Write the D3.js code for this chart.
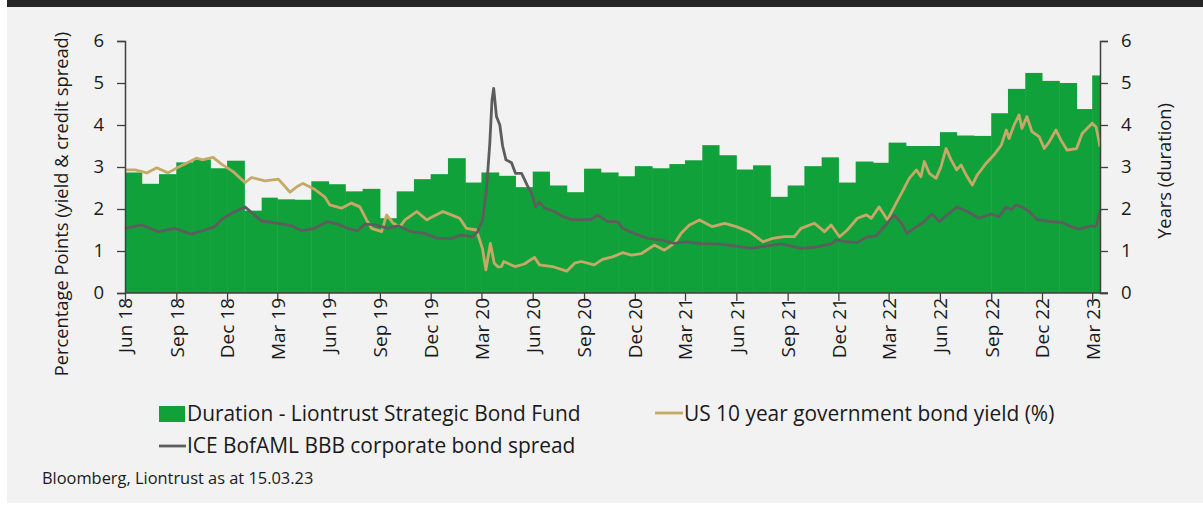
<!DOCTYPE html>
<html>
<head>
<meta charset="utf-8">
<script src="https://cdn.jsdelivr.net/npm/d3@7"></script>
<style>
  body { margin: 0; background: #ffffff; }
  svg { display: block; font-family: "Open Sans", Lato, sans-serif; }
</style>
</head>
<body>
<script>
// monthly fund duration (years), Jun 18 .. Mar 23
const durationStart = "2018-06-01";
const durationValues = [
  2.87, 2.60, 2.83, 3.11, 3.18, 2.97, 3.15,
  1.96, 2.27, 2.23, 2.22, 2.66, 2.59, 2.42, 2.48, 1.78, 2.42, 2.71, 2.83,
  3.21, 2.63, 2.87, 2.79, 2.52, 2.89, 2.56, 2.40, 2.96, 2.87, 2.78, 3.02,
  2.97, 3.07, 3.16, 3.52, 3.28, 2.94, 3.04, 2.29, 2.56, 3.02, 3.23, 2.63,
  3.13, 3.10, 3.58, 3.50, 3.50, 3.83, 3.75, 3.74, 4.28, 4.86, 5.24, 5.05,
  5.00, 4.38, 5.18
];

// US 10 year government bond yield (%)
const usYield = [
  ["2018-06-01", 2.93], ["2018-06-19", 2.93], ["2018-07-10", 2.86], ["2018-07-28", 2.98],
  ["2018-08-17", 2.86], ["2018-09-07", 3.01], ["2018-09-19", 3.09], ["2018-10-07", 3.21],
  ["2018-10-18", 3.17], ["2018-11-06", 3.23], ["2018-11-21", 3.07], ["2018-12-12", 2.89],
  ["2019-01-02", 2.63], ["2019-01-14", 2.75], ["2019-02-07", 2.67], ["2019-03-03", 2.71],
  ["2019-03-24", 2.40], ["2019-04-05", 2.53], ["2019-04-16", 2.61], ["2019-05-07", 2.47],
  ["2019-05-25", 2.29], ["2019-06-03", 2.10], ["2019-06-24", 2.02], ["2019-07-12", 2.14],
  ["2019-07-27", 2.05], ["2019-08-08", 1.74], ["2019-08-17", 1.54], ["2019-09-04", 1.46],
  ["2019-09-13", 1.86], ["2019-09-25", 1.66], ["2019-10-07", 1.58], ["2019-10-16", 1.74],
  ["2019-11-06", 1.94], ["2019-11-24", 1.74], ["2019-12-05", 1.82], ["2019-12-23", 1.94],
  ["2020-01-07", 1.86], ["2020-01-22", 1.78], ["2020-02-03", 1.54], ["2020-02-21", 1.50],
  ["2020-03-03", 1.05], ["2020-03-09", 0.55], ["2020-03-17", 1.18], ["2020-03-24", 0.71],
  ["2020-03-31", 0.62], ["2020-04-06", 0.63], ["2020-04-10", 0.75], ["2020-04-30", 0.63],
  ["2020-05-17", 0.69], ["2020-06-04", 0.85], ["2020-06-13", 0.67], ["2020-07-06", 0.63],
  ["2020-08-01", 0.52], ["2020-08-15", 0.71], ["2020-08-27", 0.75], ["2020-09-19", 0.67],
  ["2020-10-04", 0.80], ["2020-10-22", 0.86], ["2020-11-09", 0.96], ["2020-11-25", 0.90],
  ["2020-12-13", 0.94], ["2021-01-05", 1.14], ["2021-01-23", 1.02], ["2021-02-10", 1.18],
  ["2021-02-22", 1.42], ["2021-03-09", 1.62], ["2021-03-27", 1.74], ["2021-04-19", 1.58],
  ["2021-05-11", 1.66], ["2021-06-01", 1.58], ["2021-06-24", 1.46], ["2021-07-19", 1.22],
  ["2021-08-05", 1.30], ["2021-08-26", 1.34], ["2021-09-13", 1.34], ["2021-09-25", 1.54],
  ["2021-10-19", 1.66], ["2021-11-06", 1.46], ["2021-11-18", 1.62], ["2021-12-03", 1.34],
  ["2021-12-17", 1.50], ["2022-01-04", 1.78], ["2022-01-20", 1.86], ["2022-01-29", 1.78],
  ["2022-02-12", 2.05], ["2022-02-27", 1.74], ["2022-03-11", 2.05], ["2022-03-24", 2.37],
  ["2022-04-07", 2.73], ["2022-04-20", 2.93], ["2022-04-28", 2.77], ["2022-05-04", 3.13],
  ["2022-05-13", 2.85], ["2022-05-25", 2.73], ["2022-06-03", 3.01], ["2022-06-12", 3.44],
  ["2022-06-21", 3.17], ["2022-07-01", 2.93], ["2022-07-09", 3.05], ["2022-07-18", 2.81],
  ["2022-07-29", 2.57], ["2022-08-07", 2.81], ["2022-08-23", 3.09], ["2022-09-06", 3.29],
  ["2022-09-19", 3.52], ["2022-09-28", 3.88], ["2022-10-03", 3.68], ["2022-10-12", 4.00],
  ["2022-10-21", 4.24], ["2022-10-26", 3.92], ["2022-11-04", 4.20], ["2022-11-13", 3.84],
  ["2022-11-26", 3.72], ["2022-12-05", 3.44], ["2022-12-14", 3.60], ["2022-12-26", 3.88],
  ["2023-01-04", 3.64], ["2023-01-15", 3.40], ["2023-02-01", 3.44], ["2023-02-11", 3.80],
  ["2023-03-01", 4.04], ["2023-03-08", 3.95], ["2023-03-15", 3.48]
];

// ICE BofAML BBB corporate bond spread (pp)
const bbbSpread = [
  ["2018-06-01", 1.54], ["2018-07-01", 1.62], ["2018-07-31", 1.46], ["2018-08-29", 1.54],
  ["2018-09-28", 1.40], ["2018-10-22", 1.50], ["2018-11-09", 1.58], ["2018-11-21", 1.75],
  ["2018-12-09", 1.90], ["2019-01-02", 2.05], ["2019-01-31", 1.72], ["2019-03-03", 1.66],
  ["2019-03-27", 1.60], ["2019-04-13", 1.48], ["2019-05-07", 1.54], ["2019-05-30", 1.70],
  ["2019-06-17", 1.64], ["2019-07-05", 1.54], ["2019-07-23", 1.48], ["2019-08-05", 1.64],
  ["2019-08-23", 1.62], ["2019-09-15", 1.54], ["2019-10-03", 1.60], ["2019-10-28", 1.46],
  ["2019-11-20", 1.42], ["2019-12-13", 1.30], ["2020-01-08", 1.30], ["2020-01-25", 1.38],
  ["2020-02-14", 1.34], ["2020-02-23", 1.46], ["2020-03-03", 1.74], ["2020-03-10", 2.45],
  ["2020-03-16", 3.56], ["2020-03-20", 4.60], ["2020-03-23", 4.87], ["2020-03-28", 4.20],
  ["2020-04-03", 4.00], ["2020-04-08", 3.50], ["2020-04-14", 3.17], ["2020-04-24", 3.10],
  ["2020-05-01", 2.85], ["2020-05-12", 2.85], ["2020-05-22", 2.57], ["2020-05-30", 2.37],
  ["2020-06-06", 2.05], ["2020-06-13", 2.17], ["2020-06-22", 2.02], ["2020-07-10", 1.94],
  ["2020-07-23", 1.83], ["2020-08-09", 1.75], ["2020-08-29", 1.74], ["2020-09-14", 1.75],
  ["2020-09-25", 1.86], ["2020-10-13", 1.70], ["2020-10-31", 1.70], ["2020-11-09", 1.54],
  ["2020-11-30", 1.42], ["2020-12-24", 1.30], ["2021-01-18", 1.26], ["2021-02-10", 1.18],
  ["2021-03-05", 1.22], ["2021-03-30", 1.17], ["2021-04-28", 1.17], ["2021-05-28", 1.12],
  ["2021-06-28", 1.06], ["2021-07-26", 1.12], ["2021-08-21", 1.17], ["2021-09-25", 1.06],
  ["2021-10-24", 1.10], ["2021-11-18", 1.17], ["2021-11-27", 1.26], ["2021-12-17", 1.22],
  ["2022-01-04", 1.20], ["2022-01-20", 1.33], ["2022-02-07", 1.36], ["2022-02-21", 1.58],
  ["2022-03-11", 1.86], ["2022-03-24", 1.66], ["2022-04-03", 1.42], ["2022-04-20", 1.58],
  ["2022-05-04", 1.70], ["2022-05-18", 1.88], ["2022-05-31", 1.70], ["2022-06-14", 1.86],
  ["2022-07-02", 2.05], ["2022-07-20", 1.94], ["2022-08-10", 1.78], ["2022-09-01", 1.88],
  ["2022-09-15", 1.82], ["2022-09-28", 2.05], ["2022-10-07", 1.98], ["2022-10-15", 2.10],
  ["2022-10-26", 2.05], ["2022-11-08", 1.94], ["2022-11-22", 1.75], ["2022-12-17", 1.70],
  ["2023-01-06", 1.68], ["2023-01-22", 1.58], ["2023-02-06", 1.52], ["2023-02-27", 1.60],
  ["2023-03-06", 1.58], ["2023-03-09", 1.62], ["2023-03-15", 1.98]
];

const yTicks = [0, 1, 2, 3, 4, 5, 6];
const seriesNames = [
  "Duration - Liontrust Strategic Bond Fund",
  "US 10 year government bond yield (%)",
  "ICE BofAML BBB corporate bond spread"
];
const leftTitle = "Percentage Points (yield & credit spread)";
const rightTitle = "Years (duration)";
const sourceNote = "Bloomberg, Liontrust as at 15.03.23";

const colors = { bar: "#11a13b", yield: "#c6a966", spread: "#5d5d5d", axis: "#404040", text: "#1a1a1a" };

const W = 1203, H = 508;
const plot = { left: 125, right: 1100, top: 41, bottom: 293 };

const parse = d3.timeParse("%Y-%m-%d");
const endDate = parse("2023-03-15");

const x = d3.scaleTime()
  .domain([parse(durationStart), endDate])
  .range([plot.left, plot.right]);
const y = d3.scaleLinear().domain([0, 6]).range([plot.bottom, plot.top]);

const svg = d3.select("body").append("svg")
  .attr("width", W)
  .attr("height", H);

// panel background + dark strip on top
svg.append("rect").attr("x", 7).attr("y", 0).attr("width", W - 7).attr("height", 503).attr("fill", "#f2f2f2");
svg.append("rect").attr("x", 7).attr("y", 0).attr("width", W - 7).attr("height", 7).attr("fill", "#262626");

// duration bars, one per month
const bars = durationValues.map((v, i) => {
  const start = d3.timeMonth.offset(parse(durationStart), i);
  const next = d3.timeMonth.offset(start, 1);
  return { start: start, end: next > endDate ? endDate : next, value: v };
});

svg.append("g").selectAll("rect")
  .data(bars)
  .enter().append("rect")
  .attr("x", d => x(d.start))
  .attr("y", d => y(d.value))
  .attr("width", d => x(d.end) - x(d.start) + 0.5)
  .attr("height", d => y(0) - y(d.value))
  .attr("fill", colors.bar);

const line = d3.line()
  .x(d => x(parse(d[0])))
  .y(d => y(d[1]))
  .curve(d3.curveLinear);

svg.append("path")
  .datum(usYield)
  .attr("d", line)
  .attr("fill", "none")
  .attr("stroke", colors.yield)
  .attr("stroke-width", 2.8)
  .attr("stroke-linejoin", "round");

svg.append("path")
  .datum(bbbSpread)
  .attr("d", line)
  .attr("fill", "none")
  .attr("stroke", colors.spread)
  .attr("stroke-width", 2.8)
  .attr("stroke-linejoin", "round");

// axes
const leftAxis = svg.append("g")
  .attr("transform", "translate(" + plot.left + ",0)")
  .call(d3.axisLeft(y).tickValues(yTicks).tickSize(8).tickPadding(13).tickFormat(d3.format("d")));
const rightAxis = svg.append("g")
  .attr("transform", "translate(" + plot.right + ",0)")
  .call(d3.axisRight(y).tickValues(yTicks).tickSize(8).tickPadding(13).tickFormat(d3.format("d")));

const xTicks = d3.timeMonth.range(parse(durationStart), d3.timeDay.offset(endDate, 1), 3);
const bottomAxis = svg.append("g")
  .attr("transform", "translate(0," + plot.bottom + ")")
  .call(d3.axisBottom(x).tickValues(xTicks).tickSize(8).tickFormat(d3.timeFormat("%b %y")));

bottomAxis.selectAll("text")
  .attr("transform", "rotate(-90)")
  .attr("text-anchor", "end")
  .attr("x", -5)
  .attr("y", 0)
  .attr("dy", "0.36em");

[leftAxis, rightAxis, bottomAxis].forEach(g => {
  g.select(".domain").attr("stroke", colors.axis).attr("stroke-width", 1.5);
  g.selectAll(".tick line").attr("stroke", colors.axis).attr("stroke-width", 1.3);
  g.selectAll("text")
    .attr("fill", colors.text)
    .style("font-family", "'Open Sans', sans-serif")
    .style("font-size", "18.5px");
});
bottomAxis.selectAll("text").style("font-size", "19px");
bottomAxis.select(".domain").attr("d", "M" + plot.left + ",0H" + (plot.right + 8));

// axis titles
svg.append("text")
  .attr("transform", "translate(68," + 204 + ") rotate(-90)")
  .attr("text-anchor", "middle")
  .attr("fill", colors.text)
  .style("font-size", "18.3px")
  .text(leftTitle);

svg.append("text")
  .attr("transform", "translate(1171," + 171 + ") rotate(-90)")
  .attr("text-anchor", "middle")
  .attr("fill", colors.text)
  .style("font-size", "18.3px")
  .text(rightTitle);

// legend
const legend = svg.append("g").style("font-size", "20.9px").attr("fill", colors.text);
legend.append("rect").attr("x", 159).attr("y", 406).attr("width", 26).attr("height", 16).attr("fill", colors.bar);
legend.append("text").attr("x", 187).attr("y", 421).text(seriesNames[0]);
legend.append("line").attr("x1", 655).attr("x2", 683).attr("y1", 413).attr("y2", 413)
  .attr("stroke", colors.yield).attr("stroke-width", 2.8);
legend.append("text").attr("x", 684).attr("y", 421).text(seriesNames[1]);
legend.append("line").attr("x1", 159).attr("x2", 186).attr("y1", 446).attr("y2", 446)
  .attr("stroke", colors.spread).attr("stroke-width", 2.8);
legend.append("text").attr("x", 187).attr("y", 453).text(seriesNames[2]);

svg.append("text")
  .attr("x", 42).attr("y", 484)
  .attr("fill", colors.text)
  .style("font-size", "16.4px")
  .text(sourceNote);
</script>
</body>
</html>
